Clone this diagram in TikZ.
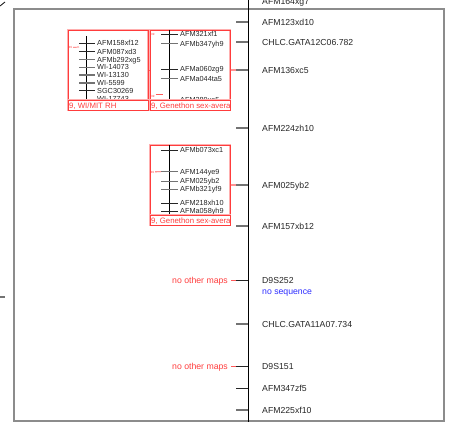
\documentclass[tikz,border=0pt]{standalone}
\usepackage{fontspec}
\setmainfont{Liberation Sans}
\usetikzlibrary{positioning}
\definecolor{mapred}{RGB}{255,60,60}
\definecolor{mappink}{RGB}{255,175,175}
\definecolor{seqblue}{RGB}{45,45,255}
\definecolor{framegray}{RGB}{140,140,140}
\definecolor{tickgray}{RGB}{115,115,115}
\tikzstyle{frame} = [draw=framegray, line width=1.4pt]
\tikzstyle{axis} = [draw=black, line width=1pt]
\tikzstyle{tick} = [draw=tickgray, line width=1.2pt]
\tikzstyle{blacktick} = [draw=black!85, line width=0.9pt]
\tikzstyle{marker} = [anchor=west, inner sep=0pt, text height=6.2pt, text depth=0pt, font=\fontsize{8.7}{10}\selectfont, text=black!85]
\tikzstyle{boxmarker} = [anchor=west, inner sep=0pt, text height=5.2pt, text depth=0pt, font=\fontsize{7.3}{8}\selectfont, text=black!85]
\tikzstyle{note} = [anchor=east, inner sep=0pt, text height=6.2pt, text depth=0pt, font=\fontsize{8.7}{10}\selectfont, text=mapred]
\tikzstyle{mapbox} = [draw=mapred, line width=0.7pt, preaction={draw=mappink, line width=2.2pt}, minimum width=80pt, inner sep=0pt]
\tikzstyle{titlebar} = [mapbox, fill=white, minimum height=10pt, anchor=south west]
\tikzstyle{maptitle} = [inner sep=0pt, text height=5.6pt, text depth=0pt, font=\fontsize{7.8}{9}\selectfont, text=mapred]
\tikzstyle{redlink} = [draw=mapred!75!mappink, line width=1.1pt]
\tikzstyle{tiny} = [anchor=west, inner sep=0pt, font=\fontsize{3}{3}\selectfont, text=mapred]

\begin{document}
\begin{tikzpicture}[x=1pt, y=-1pt]
    \useasboundingbox (0,0) rectangle (452,422);
    \clip (0,0) rectangle (452,422);

    % frame
    \coordinate (fnw) at (14,9);
    \coordinate (fne) at (444,9);
    \coordinate (fse) at (444,421);
    \coordinate (fsw) at (14,421);
    \draw [frame] (fsw) -- (fnw) -- (fne) -- (fse) -- cycle;
    \coordinate (edgeA) at (0,297);
    \coordinate (edgeB) at (5,297);
    \draw [tick] (edgeA) -- (edgeB);
    \coordinate (cornerA) at (0,6);
    \coordinate (cornerB) at (5,2);
    \draw [blacktick] (cornerA) -- (cornerB);

    % main map
    \coordinate (top) at (248,0);
    \coordinate (bot) at (248,422);
    \draw [axis] (top) -- (bot);

    \node (m164) [marker] at (262,1) {AFM164xg7};
    \node (m123) [marker] at (262,22) {AFM123xd10};
    \node (g12c) [marker] at (262,42) {CHLC.GATA12C06.782};
    \node (m136) [marker] at (262,70) {AFM136xc5};
    \node (m224) [marker] at (262,128) {AFM224zh10};
    \node (m025) [marker] at (262,185) {AFM025yb2};
    \node (m157) [marker] at (262,226) {AFM157xb12};
    \node (d252) [marker] at (262,280) {D9S252};
    \node (noseq) [marker, text=seqblue, below right=4.8pt and 0pt of d252.south west] {no sequence};
    \node (g11a) [marker] at (262,324) {CHLC.GATA11A07.734};
    \node (d151) [marker] at (262,366) {D9S151};
    \node (m347) [marker] at (262,388) {AFM347zf5};
    \node (m225) [marker] at (262,410) {AFM225xf10};

    \coordinate (c123) at (236,22);
    \coordinate (c12c) at (236,42);
    \coordinate (c136) at (236,70);
    \coordinate (c224) at (236,128);
    \coordinate (c025) at (236,185);
    \coordinate (c157) at (236,226);
    \coordinate (c252) at (236,280);
    \coordinate (c11a) at (236,324);
    \coordinate (c151) at (236,366);
    \coordinate (c347) at (236,388);
    \coordinate (c225) at (236,410);

    \draw [tick, shorten >=14pt] (c123) -- (m123);
    \draw [tick, shorten >=14pt] (c12c) -- (g12c);
    \draw [tick, shorten >=14pt] (c136) -- (m136);
    \draw [tick, shorten >=14pt] (c224) -- (m224);
    \draw [tick, shorten >=14pt] (c025) -- (m025);
    \draw [tick, shorten >=14pt] (c157) -- (m157);
    \draw [blacktick, shorten >=14pt] (c252) -- (d252);
    \draw [tick, shorten >=14pt] (c11a) -- (g11a);
    \draw [blacktick, shorten >=14pt] (c151) -- (d151);
    \draw [blacktick, shorten >=14pt] (c347) -- (m347);
    \draw [tick, shorten >=14pt] (c225) -- (m225);

    \node (other1) [note] at (228,280) {no other maps};
    \node (other2) [note] at (228,366) {no other maps};
    \draw [redlink, line width=0.8pt, shorten <=3pt] (other1) -- (c252);
    \draw [redlink, line width=0.8pt, shorten <=3pt] (other2) -- (c151);

    % 9, WI/MIT RH
    \node (wimit) [mapbox, minimum height=80pt, anchor=north west] at (68,30) {};
    \coordinate (waxtop) at (86,36);
    \coordinate (waxbot) at (86,100);
    \draw [axis] (waxtop) -- (waxbot);
    \node (w1) [boxmarker] at (97,43.3) {AFM158xf12};
    \node (w2) [boxmarker] at (97,51.7) {AFM087xd3};
    \node (w3) [boxmarker] at (97,59.7) {AFMb292xg5};
    \node (w4) [boxmarker] at (97,67.3) {WI-14073};
    \node (w5) [boxmarker] at (97,75) {WI-13130};
    \node (w6) [boxmarker] at (97,83) {WI-5599};
    \node (w7) [boxmarker] at (97,90.7) {SGC30269};
    \node (w8) [boxmarker] at (97,99.3) {WI-17743};
    \coordinate (wt1) at (79,43.3);
    \coordinate (wt2) at (79,51.7);
    \coordinate (wt3) at (79,59.7);
    \coordinate (wt4) at (79,67.3);
    \coordinate (wt5) at (79,75);
    \coordinate (wt6) at (79,83);
    \coordinate (wt7) at (79,90.7);
    \coordinate (wt8) at (79,99.3);
    \draw [blacktick, shorten >=2pt] (wt1) -- (w1);
    \draw [blacktick, shorten >=2pt] (wt2) -- (w2);
    \draw [tick, shorten >=2pt] (wt3) -- (w3);
    \draw [tick, shorten >=2pt] (wt4) -- (w4);
    \draw [tick, shorten >=2pt] (wt5) -- (w5);
    \draw [tick, shorten >=2pt] (wt6) -- (w6);
    \draw [blacktick, shorten >=2pt] (wt7) -- (w7);
    \draw [blacktick, shorten >=2pt] (wt8) -- (w8);
    \node (wcm) [tiny] at (68.5,47.5) {39};
    \coordinate (wcmend) at (79,47);
    \draw [redlink, line width=0.7pt, shorten <=1pt] (wcm) -- (wcmend);
    \node (wbar) [titlebar] at (wimit.south west) {};
    \begin{scope}
        \clip (wbar.south west) rectangle (wbar.north east);
        \node (wtitle) [maptitle, right=1pt of wbar.west] {9, WI/MIT RH};
    \end{scope}

    % 9, Genethon sex-average (upper)
    \node (genA) [mapbox, minimum height=80pt, anchor=north west] at (150,30) {};
    \coordinate (aaxtop) at (169,30);
    \coordinate (aaxbot) at (169,100);
    \draw [axis] (aaxtop) -- (aaxbot);
    \node (a1) [boxmarker] at (180,34.3) {AFM321xf1};
    \node (a2) [boxmarker] at (180,43.7) {AFMb347yh9};
    \node (a3) [boxmarker] at (180,69.3) {AFMa060zg9};
    \node (a4) [boxmarker] at (180,78.7) {AFMa044ta5};
    \node (a5) [boxmarker] at (180,99.5) {AFM289xe5};
    \coordinate (at1) at (161,34.3);
    \coordinate (at2) at (161,43.7);
    \coordinate (at3) at (161,69.3);
    \coordinate (at4) at (161,78.7);
    \draw [blacktick, shorten >=2pt] (at1) -- (a1);
    \draw [tick, shorten >=2pt] (at2) -- (a2);
    \draw [blacktick, shorten >=2pt] (at3) -- (a3);
    \draw [tick, shorten >=2pt] (at4) -- (a4);
    \node (acm1) [tiny] at (151,34) {39};
    \node (acm2) [tiny] at (151,96) {39};
    \coordinate (acmend) at (163,94);
    \draw [redlink, line width=0.7pt, shorten <=1pt] (acm2.east |- acmend) -- (acmend);
    \node (abar) [titlebar] at (genA.south west) {};
    \begin{scope}
        \clip (abar.south west) rectangle (abar.north east);
        \node (atitle) [maptitle, right=1pt of abar.west] {9, Genethon sex-average};
    \end{scope}

    % 9, Genethon sex-average (lower)
    \node (genB) [mapbox, minimum height=80pt, anchor=north west] at (150,145) {};
    \coordinate (baxtop) at (169,145);
    \coordinate (baxbot) at (169,215);
    \draw [axis] (baxtop) -- (baxbot);
    \node (b1) [boxmarker] at (180,150.3) {AFMb073xc1};
    \node (b2) [boxmarker] at (180,171.7) {AFM144ye9};
    \node (b3) [boxmarker] at (180,181.3) {AFM025yb2};
    \node (b4) [boxmarker] at (180,189.3) {AFMb321yf9};
    \node (b5) [boxmarker] at (180,203) {AFM218xh10};
    \node (b6) [boxmarker] at (180,211) {AFMa058yh9};
    \coordinate (bt1) at (161,150.3);
    \coordinate (bt2) at (161,171.7);
    \coordinate (bt3) at (161,181.3);
    \coordinate (bt4) at (161,189.3);
    \coordinate (bt5) at (161,203);
    \coordinate (bt6) at (161,211);
    \draw [blacktick, shorten >=2pt] (bt1) -- (b1);
    \draw [tick, shorten >=2pt] (bt2) -- (b2);
    \draw [tick, shorten >=2pt] (bt3) -- (b3);
    \draw [tick, shorten >=2pt] (bt4) -- (b4);
    \draw [blacktick, shorten >=2pt] (bt5) -- (b5);
    \draw [blacktick, shorten >=2pt] (bt6) -- (b6);
    \node (bcm) [tiny] at (150.5,172) {39};
    \coordinate (bcmend) at (161,171.7);
    \draw [redlink, line width=0.8pt, shorten <=1pt] (bcm) -- (bcmend);
    \node (bbar) [titlebar] at (genB.south west) {};
    \begin{scope}
        \clip (bbar.south west) rectangle (bbar.north east);
        \node (btitle) [maptitle, right=1pt of bbar.west] {9, Genethon sex-average};
    \end{scope}

    % links between maps
    \draw [redlink] (wimit) -- (genA);
    \draw [redlink] (genA) -- (c136);
    \draw [redlink] (genB) -- (c025);
\end{tikzpicture}
\end{document}
